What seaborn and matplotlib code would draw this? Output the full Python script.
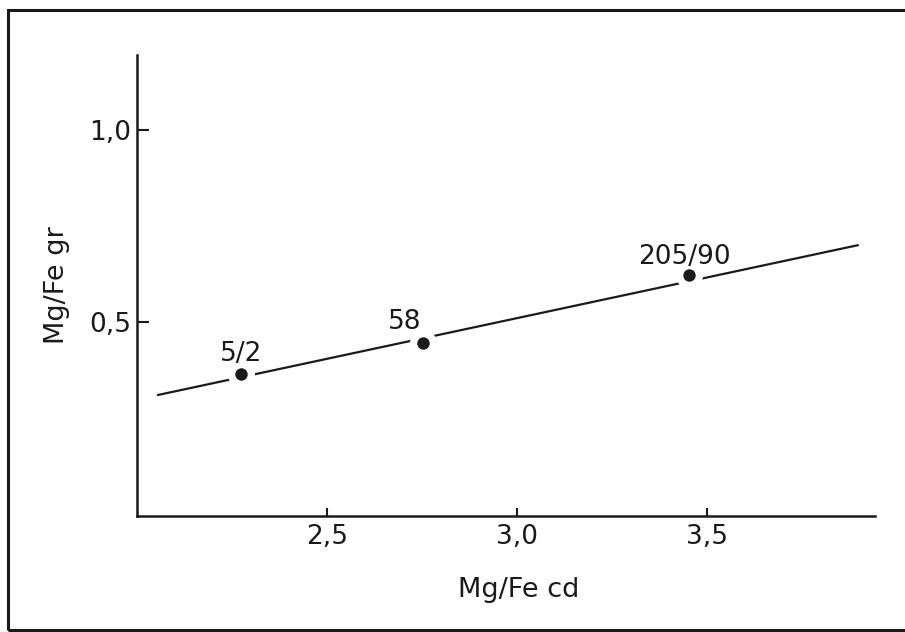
import matplotlib
matplotlib.use("Agg")
import matplotlib.pyplot as plt
import seaborn as sns
import pandas as pd
from matplotlib.patches import Rectangle

# data
cd = [2.274, 2.753, 3.453]
gr = [0.365, 0.445, 0.622]
sample = ["5/2", "58", "205/90"]
fit_cd = [2.055, 3.897]
fit_gr = [0.31, 0.70]
xticks = [2.5, 3.0, 3.5]
xticklabels = ["2,5", "3,0", "3,5"]
yticks = [0.5, 1.0]
yticklabels = ["0,5", "1,0"]

df = pd.DataFrame({"cd": cd, "gr": gr, "sample": sample})
fit = pd.DataFrame({"cd": fit_cd, "gr": fit_gr})

sns.set_style("white")
plt.rcParams['font.family'] = ['DejaVu Sans']
ink = "#1a1a1a"

fig = plt.figure(figsize=(9.05, 6.32), dpi=100)
ax = fig.add_axes([0.1514, 0.1835, 0.8155, 0.7295])

# regression line, then white halos to cut gaps, then the dots
sns.lineplot(x="cd", y="gr", data=fit, color=ink, linewidth=1.6, ax=ax)
sns.scatterplot(x="cd", y="gr", data=df, color="white", s=380, linewidth=0, ax=ax, zorder=3)
sns.scatterplot(x="cd", y="gr", data=df, color=ink, s=80, linewidth=0, ax=ax, zorder=4)

# sample labels
offsets = [(0, 20), (-18, 21), (-5, 18)]
for (x, y, lab), off in zip(zip(cd, gr, sample), offsets):
    ax.annotate(lab, (x, y), xytext=off, textcoords="offset pixels",
                ha="center", va="center", fontsize=19, color=ink, zorder=5)

ax.set_xlim(2.0, 3.942)
ax.set_ylim(-0.005, 1.195)
ax.set_xticks(xticks)
ax.set_xticklabels(xticklabels)
ax.set_yticks(yticks)
ax.set_yticklabels(yticklabels)
ax.tick_params(direction="in", width=1.5, labelsize=19, colors=ink,
               bottom=True, left=True)
ax.tick_params(axis="x", length=6, pad=6)
ax.tick_params(axis="y", length=8.5, pad=4)

sns.despine(ax=ax)
for s in ["left", "bottom"]:
    ax.spines[s].set_linewidth(1.8)
    ax.spines[s].set_color(ink)

ax.set_xlabel("Mg/Fe cd", fontsize=19.5, color=ink)
ax.set_ylabel("Mg/Fe gr", fontsize=19.5, color=ink)
ax.xaxis.set_label_coords((519 - 137) / 738, -0.132)
ax.yaxis.set_label_coords(-0.091, 0.5)

# frame around the whole figure (cut off on the right in the scan)
fig.add_artist(Rectangle((8 / 905, 2 / 632), 1.0, 620 / 632,
                         transform=fig.transFigure, fill=False,
                         edgecolor=ink, linewidth=2.2))

fig.savefig("out.png", dpi=100, facecolor="white")
